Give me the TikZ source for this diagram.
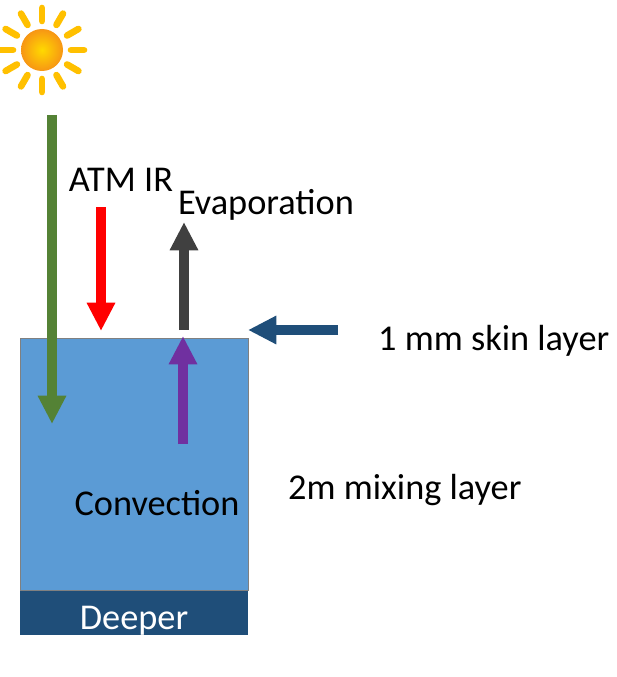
\documentclass[tikz,border=0pt]{standalone}
\usepackage{fontspec}
\setmainfont{Carlito}
\usetikzlibrary{positioning,arrows.meta}
\definecolor{water}{RGB}{91,155,213}
\definecolor{deep}{RGB}{31,78,121}
\definecolor{sunorange}{RGB}{255,192,0}
\definecolor{sundark}{RGB}{247,150,20}
\definecolor{leaf}{RGB}{84,130,53}
\definecolor{violet}{RGB}{112,48,160}
\definecolor{smoke}{RGB}{64,64,64}
\begin{document}
\begin{tikzpicture}[x=0.03cm,y=-0.03cm,
flux/.style={line width=0.3cm,-{Triangle[width=0.8cm,length=0.85cm]}},
lbl/.style={font=\fontsize{31}{36}\selectfont,inner sep=0pt},
]
\useasboundingbox (0,0) rectangle (616,677);
% sun
\shade[inner color=sunorange!60!yellow,outer color=sundark] (42,50) circle (21);
\foreach \a in {0,30,...,330}
  \draw[sunorange,line width=0.2cm,line cap=round] (42,50) ++(\a:29) -- ++(\a:13);
\coordinate (sun) at (52,115);
% layers
\node[draw=gray,fill=water,minimum width=228*0.03cm,minimum height=252*0.03cm,anchor=north west,inner sep=0pt] (mix) at (20,338) {};
\node[fill=deep,minimum width=228*0.03cm,minimum height=44*0.03cm,anchor=north,inner sep=0pt,below=0pt of mix] (deeper) {};
\node[lbl,text=white] at (134,621) {Deeper};
% fluxes
\coordinate (solar) at (52,424);
\coordinate (irtop) at (101,207);
\coordinate (irend) at (101,331);
\coordinate (evbot) at (184,330);
\coordinate (evtop) at (184,222);
\coordinate (cvbot) at (183,444);
\coordinate (cvtop) at (183,336);
\coordinate (skin) at (338,330);
\coordinate (skinend) at (248,330);
\draw[flux,leaf] (sun) -- (solar);
\draw[flux,red] (irtop) -- (irend);
\draw[flux,smoke] (evbot) -- (evtop);
\draw[flux,violet] (cvbot) -- (cvtop);
\draw[flux,deep] (skin) -- (skinend);
% labels
\node[lbl] (atm) at (121,180) {ATM IR};
\node[lbl] (evap) at (266,205) {Evaporation};
\node[lbl,anchor=west] (skinlbl) at (378,341) {1 mm skin layer};
\node[lbl,anchor=west] (mixlbl) at (288,490) {2m mixing layer};
\node[lbl] (conv) at (157,503) {Convection};
\end{tikzpicture}
\end{document}
